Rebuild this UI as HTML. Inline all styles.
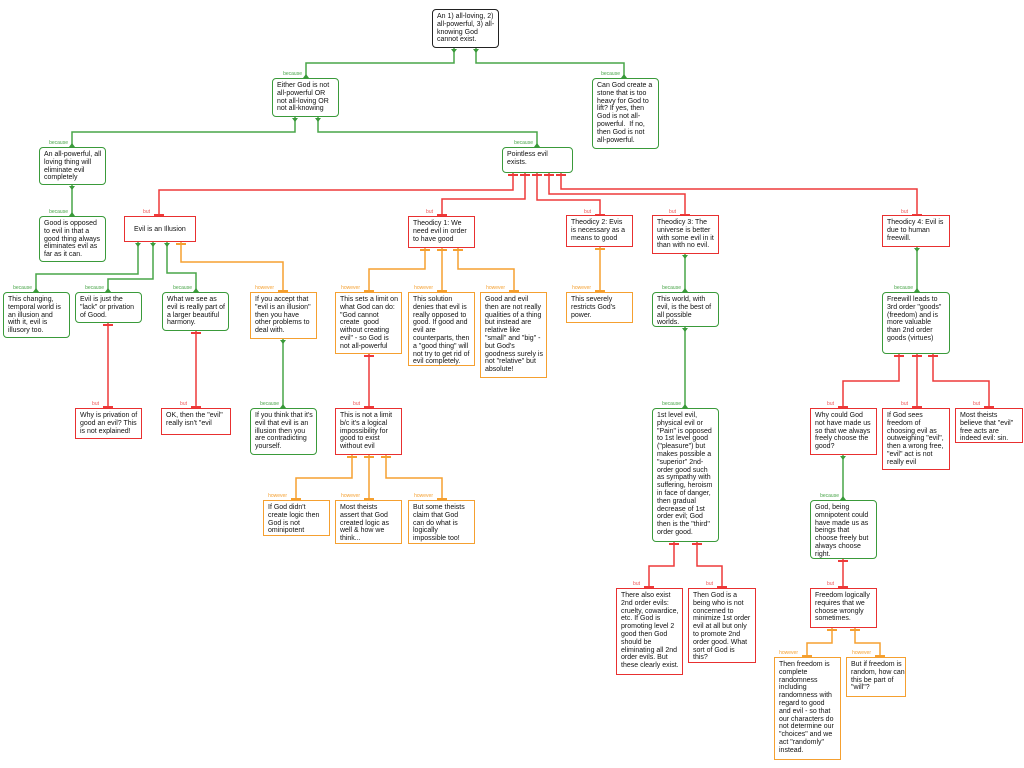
<!DOCTYPE html>
<html><head><meta charset="utf-8"><style>
body{margin:0;width:1024px;height:768px;background:#fff;position:relative;overflow:hidden;font-family:"Liberation Sans",sans-serif}
.n{position:absolute;box-sizing:border-box;font-size:7px;line-height:7.8px;padding:3px 4px;color:#111;white-space:nowrap;background:#fff;border:1.5px solid}
.g{border-color:#3a9a3a;border-radius:4px}
.r{border-color:#e83030}
.o{border-color:#f5a030}
.k{border-color:#222;border-radius:4px}
.l{position:absolute;font-size:5px;line-height:5px;text-align:right;width:40px}
svg{position:absolute;left:0;top:0}
</style></head><body>
<svg width="1024" height="768" fill="none" stroke-width="1.5">
<g stroke="#49a549">
<path d="M454 48V63H306V78M476 48V63H624V78"/>
<path d="M295 117V132H72V147M318 117V132H537V147"/>
<path d="M72 185V216"/>
<path d="M138 242V274H36V292M153 242V279H108V292M167 242V273H196V292"/>
<path d="M283 339V408"/>
<path d="M685 254V292M685 327V408M917 247V292M843 455V500"/>
</g>
<g stroke="#ee3a3a">
<path d="M513 173V190H159V216M525 173V199H442V216M537 173V200H600V216M549 173V194H685V216M561 173V189H917V216"/>
<path d="M108 323V408M196 331V408M369 354V408"/>
<path d="M674 542V566H649V588M697 542V566H722V588"/>
<path d="M899 354V381H843V408M917 354V408M933 354V381H989V408"/>
<path d="M843 559V588"/>
</g>
<g stroke="#f5a030">
<path d="M181 242V262H283V292"/>
<path d="M425 248V269H369V292M442 248V292M458 248V269H514V292"/>
<path d="M352 455V478H296V500M369 455V500M386 455V478H442V500"/>
<path d="M600 247V292"/>
<path d="M832 628V643H807V657M855 628V643H880V657"/>
</g>
<g stroke-width="2">
<g stroke="#ee3a3a"><path d="M508 175H518M520 175H530M532 175H542M544 175H554M556 175H566M154 215H164M437 215H447M595 215H605M680 215H690M912 215H922M103 325H113M103 407H113M191 333H201M191 407H201M364 356H374M364 407H374M669 544H679M692 544H702M644 587H654M717 587H727M894 356H904M912 356H922M928 356H938M838 407H848M912 407H922M984 407H994M838 561H848M838 587H848"/></g>
<g stroke="#f5a030"><path d="M176 244H186M278 291H288M420 250H430M437 250H447M453 250H463M364 291H374M437 291H447M509 291H519M347 457H357M364 457H374M381 457H391M291 499H301M364 499H374M437 499H447M595 249H605M595 291H605M827 630H837M850 630H860M802 656H812M875 656H885"/></g>
</g>
<g fill="#3a9a3a">
<path d="M451 49h6l-3 4zM473 49h6l-3 4zM292 118h6l-3 4zM315 118h6l-3 4zM69 186h6l-3 4zM135 243h6l-3 4zM150 243h6l-3 4zM164 243h6l-3 4zM280 340h6l-3 4zM682 255h6l-3 4zM682 328h6l-3 4zM914 248h6l-3 4zM840 456h6l-3 4z"/>
<path d="M303 78h6l-3 -4zM621 78h6l-3 -4zM69 147h6l-3 -4zM534 147h6l-3 -4zM69 216h6l-3 -4zM33 292h6l-3 -4zM105 292h6l-3 -4zM193 292h6l-3 -4zM280 408h6l-3 -4zM682 292h6l-3 -4zM682 408h6l-3 -4zM914 292h6l-3 -4zM840 500h6l-3 -4z"/>
</g>
</svg>

<div class="l" style="left:262px;top:72px;color:#49a549">because</div>
<div class="l" style="left:580px;top:72px;color:#49a549">because</div>
<div class="l" style="left:28px;top:141px;color:#49a549">because</div>
<div class="l" style="left:493px;top:141px;color:#49a549">because</div>
<div class="l" style="left:28px;top:210px;color:#49a549">because</div>
<div class="l" style="left:110px;top:210px;color:#ee5555">but</div>
<div class="l" style="left:393px;top:210px;color:#ee5555">but</div>
<div class="l" style="left:551px;top:210px;color:#ee5555">but</div>
<div class="l" style="left:636px;top:210px;color:#ee5555">but</div>
<div class="l" style="left:868px;top:210px;color:#ee5555">but</div>
<div class="l" style="left:-8px;top:286px;color:#49a549">because</div>
<div class="l" style="left:64px;top:286px;color:#49a549">because</div>
<div class="l" style="left:152px;top:286px;color:#49a549">because</div>
<div class="l" style="left:234px;top:286px;color:#f5a030">however</div>
<div class="l" style="left:320px;top:286px;color:#f5a030">however</div>
<div class="l" style="left:393px;top:286px;color:#f5a030">however</div>
<div class="l" style="left:465px;top:286px;color:#f5a030">however</div>
<div class="l" style="left:551px;top:286px;color:#f5a030">however</div>
<div class="l" style="left:641px;top:286px;color:#49a549">because</div>
<div class="l" style="left:873px;top:286px;color:#49a549">because</div>
<div class="l" style="left:59px;top:402px;color:#ee5555">but</div>
<div class="l" style="left:147px;top:402px;color:#ee5555">but</div>
<div class="l" style="left:239px;top:402px;color:#49a549">because</div>
<div class="l" style="left:320px;top:402px;color:#ee5555">but</div>
<div class="l" style="left:641px;top:402px;color:#49a549">because</div>
<div class="l" style="left:794px;top:402px;color:#ee5555">but</div>
<div class="l" style="left:868px;top:402px;color:#ee5555">but</div>
<div class="l" style="left:940px;top:402px;color:#ee5555">but</div>
<div class="l" style="left:247px;top:494px;color:#f5a030">however</div>
<div class="l" style="left:320px;top:494px;color:#f5a030">however</div>
<div class="l" style="left:393px;top:494px;color:#f5a030">however</div>
<div class="l" style="left:799px;top:494px;color:#49a549">because</div>
<div class="l" style="left:600px;top:582px;color:#ee5555">but</div>
<div class="l" style="left:673px;top:582px;color:#ee5555">but</div>
<div class="l" style="left:794px;top:582px;color:#ee5555">but</div>
<div class="l" style="left:758px;top:651px;color:#f5a030">however</div>
<div class="l" style="left:831px;top:651px;color:#f5a030">however</div>

<div class="n k" style="left:432px;top:9px;width:67px;height:39px">An 1) all-loving, 2)<br>all-powerful, 3) all-<br>knowing God<br>cannot exist.</div>
<div class="n g" style="left:272px;top:78px;width:67px;height:39px">Either God is not<br>all-powerful OR<br>not all-loving OR<br>not all-knowing</div>
<div class="n g" style="left:592px;top:78px;width:67px;height:71px">Can God create a<br>stone that is too<br>heavy for God to<br>lift? If yes, then<br>God is not all-<br>powerful.&nbsp; If no,<br>then God is not<br>all-powerful.</div>
<div class="n g" style="left:39px;top:147px;width:67px;height:38px">An all-powerful, all<br>loving thing will<br>eliminate evil<br>completely</div>
<div class="n g" style="left:502px;top:147px;width:71px;height:26px">Pointless evil<br>exists.</div>
<div class="n g" style="left:39px;top:216px;width:67px;height:46px">Good is opposed<br>to evil in that a<br>good thing always<br>eliminates evil as<br>far as it can.</div>
<div class="n r" style="left:124px;top:216px;width:72px;height:26px;padding-top:9px;padding-left:9px">Evil is an Illusion</div>
<div class="n r" style="left:408px;top:216px;width:67px;height:32px">Theodicy 1: We<br>need evil in order<br>to have good</div>
<div class="n r" style="left:566px;top:215px;width:67px;height:32px">Theodicy 2: Evis<br>is necessary as a<br>means to good</div>
<div class="n r" style="left:652px;top:215px;width:67px;height:39px">Theodicy 3: The<br>universe is better<br>with some evil in it<br>than with no evil.</div>
<div class="n r" style="left:882px;top:215px;width:68px;height:32px">Theodicy 4: Evil is<br>due to human<br>freewill.</div>

<div class="n g" style="left:3px;top:292px;width:67px;height:46px">This changing,<br>temporal world is<br>an illusion and<br>with it, evil is<br>illusory too.</div>
<div class="n g" style="left:75px;top:292px;width:67px;height:31px">Evil is just the<br>"lack" or privation<br>of Good.</div>
<div class="n g" style="left:162px;top:292px;width:67px;height:39px">What we see as<br>evil is really part of<br>a larger beautiful<br>harmony.</div>
<div class="n o" style="left:250px;top:292px;width:67px;height:47px">If you accept that<br>"evil is an illusion"<br>then you have<br>other problems to<br>deal with.</div>
<div class="n o" style="left:335px;top:292px;width:67px;height:62px">This sets a limit on<br>what God can do:<br>"God cannot<br>create&nbsp; good<br>without creating<br>evil" - so God is<br>not all-powerful</div>
<div class="n o" style="left:408px;top:292px;width:67px;height:74px">This solution<br>denies that evil is<br>really opposed to<br>good. If good and<br>evil are<br>counterparts, then<br>a "good thing" will<br>not try to get rid of<br>evil completely.</div>
<div class="n o" style="left:480px;top:292px;width:67px;height:86px">Good and evil<br>then are not really<br>qualities of a thing<br>but instead are<br>relative like<br>"small" and "big" -<br>but God's<br>goodness surely is<br>not "relative" but<br>absolute!</div>
<div class="n o" style="left:566px;top:292px;width:67px;height:31px">This severely<br>restricts God's<br>power.</div>
<div class="n g" style="left:652px;top:292px;width:67px;height:35px">This world, with<br>evil, is the best of<br>all possible<br>worlds.</div>
<div class="n g" style="left:882px;top:292px;width:68px;height:62px">Freewill leads to<br>3rd order "goods"<br>(freedom) and is<br>more valuable<br>than 2nd order<br>goods (virtues)</div>

<div class="n r" style="left:75px;top:408px;width:67px;height:31px">Why is privation of<br>good an evil? This<br>is not explained!</div>
<div class="n r" style="left:161px;top:408px;width:70px;height:27px">OK, then the "evil"<br>really isn't "evil</div>
<div class="n g" style="left:250px;top:408px;width:67px;height:47px">If you think that it's<br>evil that evil is an<br>illusion then you<br>are contradicting<br>yourself.</div>
<div class="n r" style="left:335px;top:408px;width:67px;height:47px">This is not a limit<br>b/c it's a logical<br>impossibility for<br>good to exist<br>without evil</div>
<div class="n g" style="left:652px;top:408px;width:67px;height:134px">1st level evil,<br>physical evil or<br>"Pain" is opposed<br>to 1st level good<br>("pleasure") but<br>makes possible a<br>"superior" 2nd-<br>order good such<br>as sympathy with<br>suffering, heroism<br>in face of danger,<br>then gradual<br>decrease of 1st<br>order evil; God<br>then is the "third"<br>order good.</div>
<div class="n r" style="left:810px;top:408px;width:67px;height:47px">Why could God<br>not have made us<br>so that we always<br>freely choose the<br>good?</div>
<div class="n r" style="left:882px;top:408px;width:68px;height:62px">If God sees<br>freedom of<br>choosing evil as<br>outweighing "evil",<br>then a wrong free,<br>"evil" act is not<br>really evil</div>
<div class="n r" style="left:955px;top:408px;width:68px;height:35px">Most theists<br>believe that "evil"<br>free acts are<br>indeed evil: sin.</div>

<div class="n o" style="left:263px;top:500px;width:67px;height:36px">If God didn't<br>create logic then<br>God is not<br>ominipotent</div>
<div class="n o" style="left:335px;top:500px;width:67px;height:44px">Most theists<br>assert that God<br>created logic as<br>well &amp; how we<br>think...</div>
<div class="n o" style="left:408px;top:500px;width:67px;height:44px">But some theists<br>claim that God<br>can do what is<br>logically<br>impossible too!</div>
<div class="n g" style="left:810px;top:500px;width:67px;height:59px">God, being<br>omnipotent could<br>have made us as<br>beings that<br>choose freely but<br>always choose<br>right.</div>

<div class="n r" style="left:616px;top:588px;width:67px;height:87px">There also exist<br>2nd order evils:<br>cruelty, cowardice,<br>etc. If God is<br>promoting level 2<br>good then God<br>should be<br>eliminating all 2nd<br>order evils. But<br>these clearly exist.</div>
<div class="n r" style="left:688px;top:588px;width:68px;height:75px">Then God is a<br>being who is not<br>concerned to<br>minimize 1st order<br>evil at all but only<br>to promote 2nd<br>order good. What<br>sort of God is<br>this?</div>
<div class="n r" style="left:810px;top:588px;width:67px;height:40px">Freedom logically<br>requires that we<br>choose wrongly<br>sometimes.</div>
<div class="n o" style="left:774px;top:657px;width:67px;height:103px">Then freedom is<br>complete<br>randomness<br>including<br>randomness with<br>regard to good<br>and evil - so that<br>our characters do<br>not determine our<br>"choices" and we<br>act "randomly"<br>instead.</div>
<div class="n o" style="left:846px;top:657px;width:60px;height:40px">But if freedom is<br>random, how can<br>this be part of<br>"will"?</div>
</body></html>
